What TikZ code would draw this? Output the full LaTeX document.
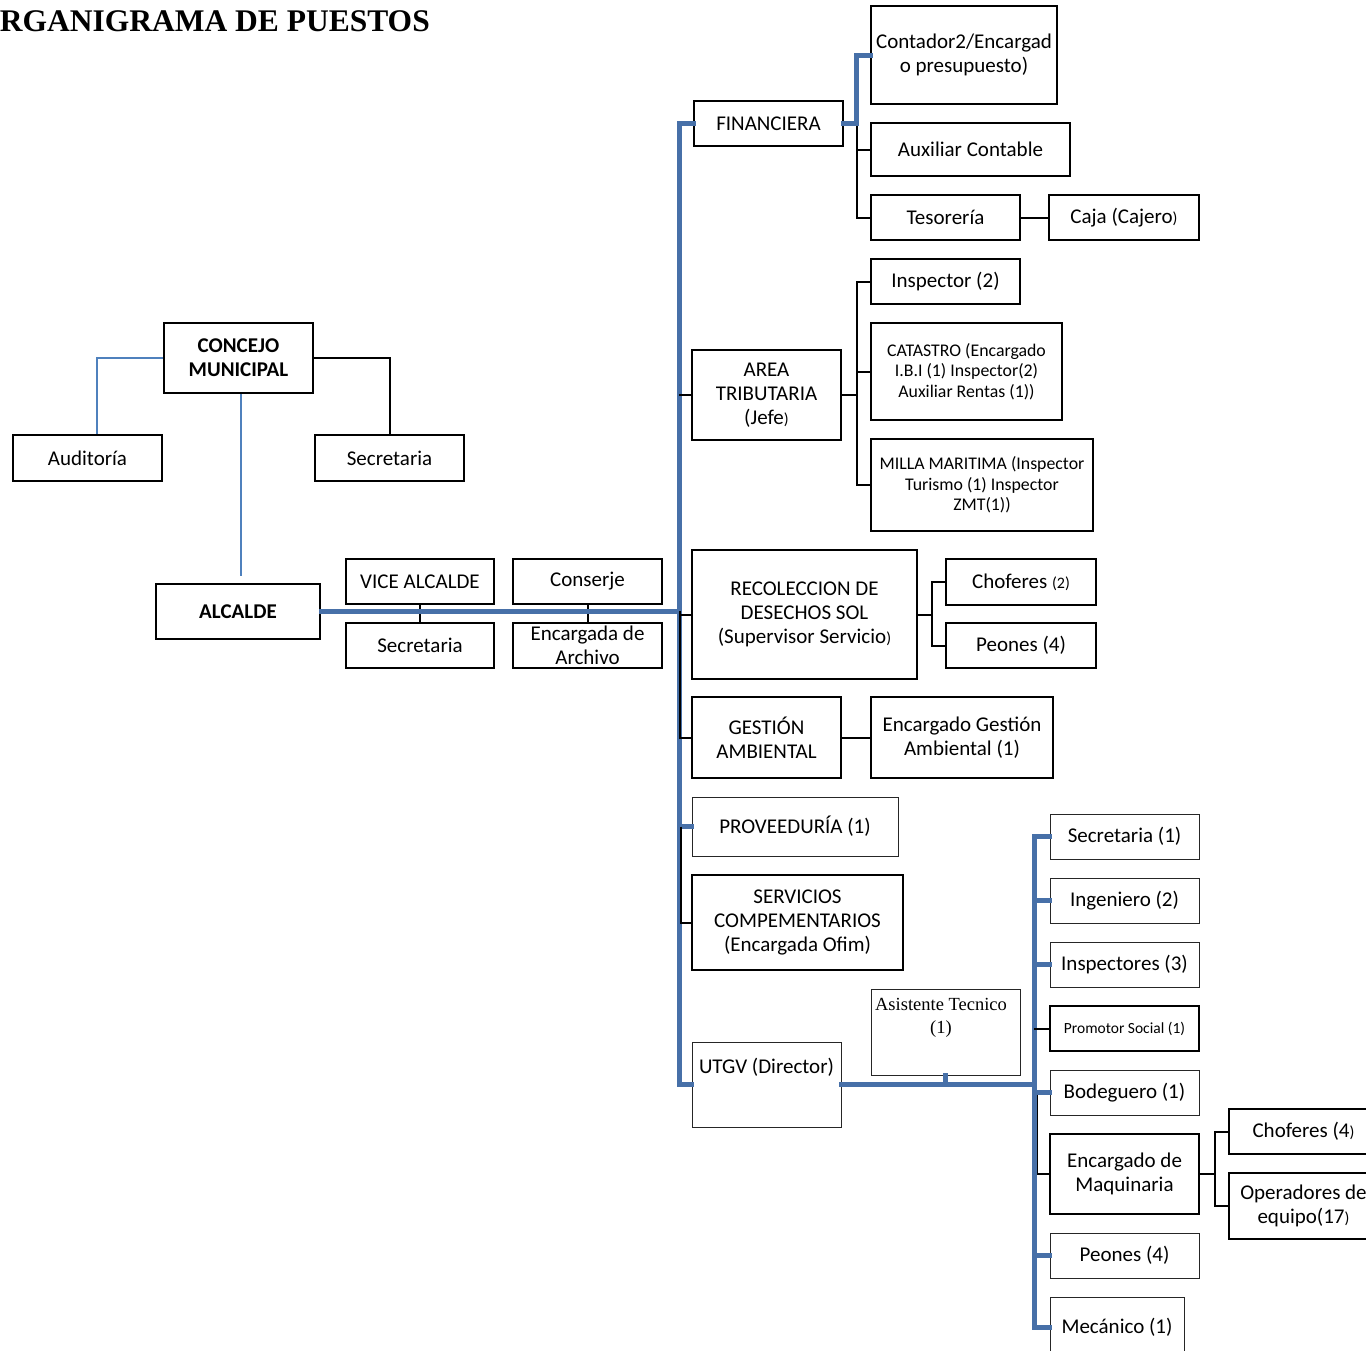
\documentclass[tikz,border=0pt]{standalone}
\usepackage{fontspec}
\setmainfont{Carlito}
\newfontfamily\serifttl{Liberation Serif}
\newcommand\fsmain{\fontsize{21}{24}\selectfont}
\newcommand\fssmall{\fontsize{17.8}{20.5}\selectfont}
\newcommand\smtx[1]{{\fontsize{16}{24}\selectfont #1}}
\definecolor{bigblue}{RGB}{71,112,168}
\definecolor{thinblue}{RGB}{79,129,189}
\begin{document}
\begin{tikzpicture}[x=1pt,y=-1pt,
  box/.style={draw=black, line width=1.5pt, inner sep=0pt, align=center, font=\fsmain},
  lbox/.style={box, line width=1pt, draw=black!85},
  bbox/.style={box, line width=2pt, font=\fsmain\bfseries},
  sz/.style 2 args={minimum width=#1pt, minimum height=#2pt},
  bigline/.style={draw=bigblue, line width=5pt, line join=miter, line cap=rect},
  thinline/.style={draw=black, line width=2pt, line join=miter},
  thinblueline/.style={draw=thinblue, line width=2pt, line join=miter},
  txt/.style={inner sep=0pt, align=center}]
\useasboundingbox (0,0) rectangle (1366,1350);
\clip (0,0) rectangle (1366,1350);

% title
\node[txt, anchor=base east, font=\serifttl\bfseries\fontsize{31.5}{36}\selectfont] (title) at (430,31) {RGANIGRAMA DE PUESTOS};

% left part
\node[bbox, sz={149}{70}] (concejo) at (238.5,358) {CONCEJO\\MUNICIPAL};
\node[box, sz={149}{46}] (auditoria) at (87.5,458) {Auditoría};
\node[box, sz={149}{46}] (sec1) at (389.5,458) {Secretaria};
\node[bbox, sz={164}{55}] (alcalde) at (238,611.5) {ALCALDE};
\node[box, sz={148}{45}] (vice) at (420,581.5) {VICE ALCALDE};
\node[box, sz={148}{45}] (sec2) at (420,645.5) {Secretaria};
\node[box, sz={149}{45}] (conserje) at (587.5,581.5) {Conserje};
\node[box, sz={149}{45}] (archivo) at (587.5,645.5) {Encargada de\\Archivo};

% main column
\node[box, sz={149}{45}] (financiera) at (768.5,123.5) {FINANCIERA};
\node[box, sz={149}{90}] (tributaria) at (766.5,395) {AREA\\TRIBUTARIA\\(Jefe\smtx{)}};
\node[box, sz={225}{129}] (recoleccion) at (804.5,614.5) {RECOLECCION DE\\DESECHOS SOL\\(Supervisor Servicio\smtx{)}};
\node[box, sz={149}{81}] (gestion) at (766.5,737.5) {GESTIÓN\\AMBIENTAL};
\node[lbox, sz={206}{59}] (proveeduria) at (795,826.5) {PROVEEDURÍA (1)};
\node[box, sz={211}{95}] (servicios) at (797.5,922.5) {SERVICIOS\\COMPEMENTARIOS\\(Encargada Ofim)};
\node[lbox, sz={149}{85}] (utgv) at (766.5,1084.5) {};
\node[txt, font=\fsmain] (utgvtxt) at (766.5,1067) {UTGV (Director)};

% financiera children
\node[box, sz={186}{98}] (contador) at (964,55) {Contador2/Encargad\\o presupuesto)};
\node[box, sz={199}{53}] (auxiliar) at (970.5,149.5) {Auxiliar Contable};
\node[box, sz={149}{45}] (tesoreria) at (945.5,217.5) {Tesorería};
\node[box, sz={150}{45}] (caja) at (1124,217.5) {Caja (Cajero\smtx{)}};

% tributaria children
\node[box, sz={149}{45}] (inspector) at (945.5,281.5) {Inspector (2)};
\node[box, sz={191}{97}, font=\fssmall] (catastro) at (966.5,371.5) {CATASTRO (Encargado\\I.B.I (1) Inspector(2)\\Auxiliar Rentas (1))};
\node[box, sz={222}{92}, font=\fssmall] (milla) at (982,485) {MILLA MARITIMA (Inspector\\Turismo (1) Inspector\\ZMT(1))};

% recoleccion children
\node[box, sz={150}{46}] (choferes2) at (1021,582) {Choferes \smtx{(2)}};
\node[box, sz={150}{45}] (peones1) at (1021,645.5) {Peones (4)};

% gestion child
\node[box, sz={182}{81}] (encgestion) at (962,737.5) {Encargado Gestión\\Ambiental (1)};

% utgv children
\node[lbox, sz={149}{86}] (asistente) at (945.5,1032) {};
\node[txt, font=\serifttl\fontsize{18.5}{23}\selectfont] (asisttxt) at (941,1017.5) {Asistente Tecnico\\(1)\hspace{9pt}};
\node[lbox, sz={149}{45}] (secr1) at (1124.5,836.5) {Secretaria (1)};
\node[lbox, sz={149}{45}] (ingeniero) at (1124.5,900.5) {Ingeniero (2)};
\node[lbox, sz={149}{45}] (inspectores) at (1124.5,964.5) {Inspectores (3)};
\node[box, sz={149}{45}, font=\fontsize{15.5}{18}\selectfont] (promotor) at (1124.5,1028.5) {Promotor Social (1)};
\node[lbox, sz={149}{45}] (bodeguero) at (1124.5,1092.5) {Bodeguero (1)};
\node[box, sz={149}{80}] (maquinaria) at (1124.5,1174) {Encargado de\\Maquinaria};
\node[lbox, sz={149}{45}] (peones2) at (1124.5,1255.5) {Peones (4)};
\node[lbox, sz={134}{60}] (mecanico) at (1117,1327) {Mecánico (1)};
\node[box, sz={149}{45}] (choferes4) at (1303.5,1131.5) {Choferes (4\smtx{)}};
\node[box, sz={149}{66}] (operadores) at (1303.5,1206) {Operadores de\\equipo(17\smtx{)}};

% concejo connectors
\draw[thinblueline] (concejo.west) -| ([xshift=9.5pt]auditoria.north);
\draw[thinline] (concejo.east) -| (sec1.north);
\draw[thinblueline] ([xshift=2.5pt]concejo.south) -- ([xshift=3pt,yshift=7pt]alcalde.north);

% alcalde group
\draw[thinline] (vice.south) -- (sec2.north);
\draw[thinline] (conserje.south) -- (archivo.north);

% main trunk
\coordinate (mx) at (679,123.5);
\draw[bigline] (financiera.west) -- (mx) |- (utgv.west);
\draw[bigline] (alcalde.east) -- (alcalde.east -| mx);
\draw[bigline] (proveeduria.west) -- (proveeduria.west -| mx);
\draw[thinline] (tributaria.west) -- (tributaria.west -| mx);
\draw[thinline] ([xshift=-11pt,yshift=3.5pt]recoleccion.west) |- (gestion.west);
\draw[thinline] ([xshift=-11pt]recoleccion.west) -- (recoleccion.west);
\draw[thinline] ([xshift=-11pt]proveeduria.west) |- (servicios.west);

% financiera branch
\coordinate (fj) at ([xshift=13pt]financiera.east);
\draw[thinline] (fj) |- (auxiliar.west);
\draw[thinline] (fj) |- (tesoreria.west);
\draw[bigline] (financiera.east) -- (fj) |- (contador.west);
\draw[thinline] (tesoreria.east) -- (caja.west);

% tributaria branch
\coordinate (tj) at ([xshift=15pt]tributaria.east);
\draw[thinline] (tributaria.east) -- (tj);
\draw[thinline] (tj) |- (inspector.west);
\draw[thinline] (tj) |- (catastro.west);
\draw[thinline] (tj) |- (milla.west);

% recoleccion branch
\coordinate (rj) at ([xshift=14pt]recoleccion.east);
\draw[thinline] (recoleccion.east) -- (rj);
\draw[thinline] (rj) |- (choferes2.west);
\draw[thinline] (rj) |- (peones1.west);

% gestion
\draw[thinline] (gestion.east) -- (encgestion.west);

% utgv branch
\coordinate (ux) at (1034,836.5);
\draw[thinline] ([xshift=-13pt]bodeguero.west) |- (maquinaria.west);
\draw[bigline] (utgv.east) -- (utgv.east -| ux);
\draw[bigline] (asistente.south) -- (asistente.south |- utgv.east);
\draw[bigline] (secr1.west) -- (ux) |- (mecanico.west);
\draw[bigline] (ingeniero.west) -- (ingeniero.west -| ux);
\draw[bigline] (inspectores.west) -- (inspectores.west -| ux);
\draw[bigline] (bodeguero.west) -- (bodeguero.west -| ux);
\draw[bigline] (peones2.west) -- (peones2.west -| ux);
\draw[thinline] (promotor.west) -- (promotor.west -| ux);

% maquinaria branch
\coordinate (mj) at ([xshift=15pt]maquinaria.east);
\draw[thinline] (maquinaria.east) -- (mj);
\draw[thinline] (mj) |- (choferes4.west);
\draw[thinline] (mj) |- (operadores.west);
\end{tikzpicture}
\end{document}
